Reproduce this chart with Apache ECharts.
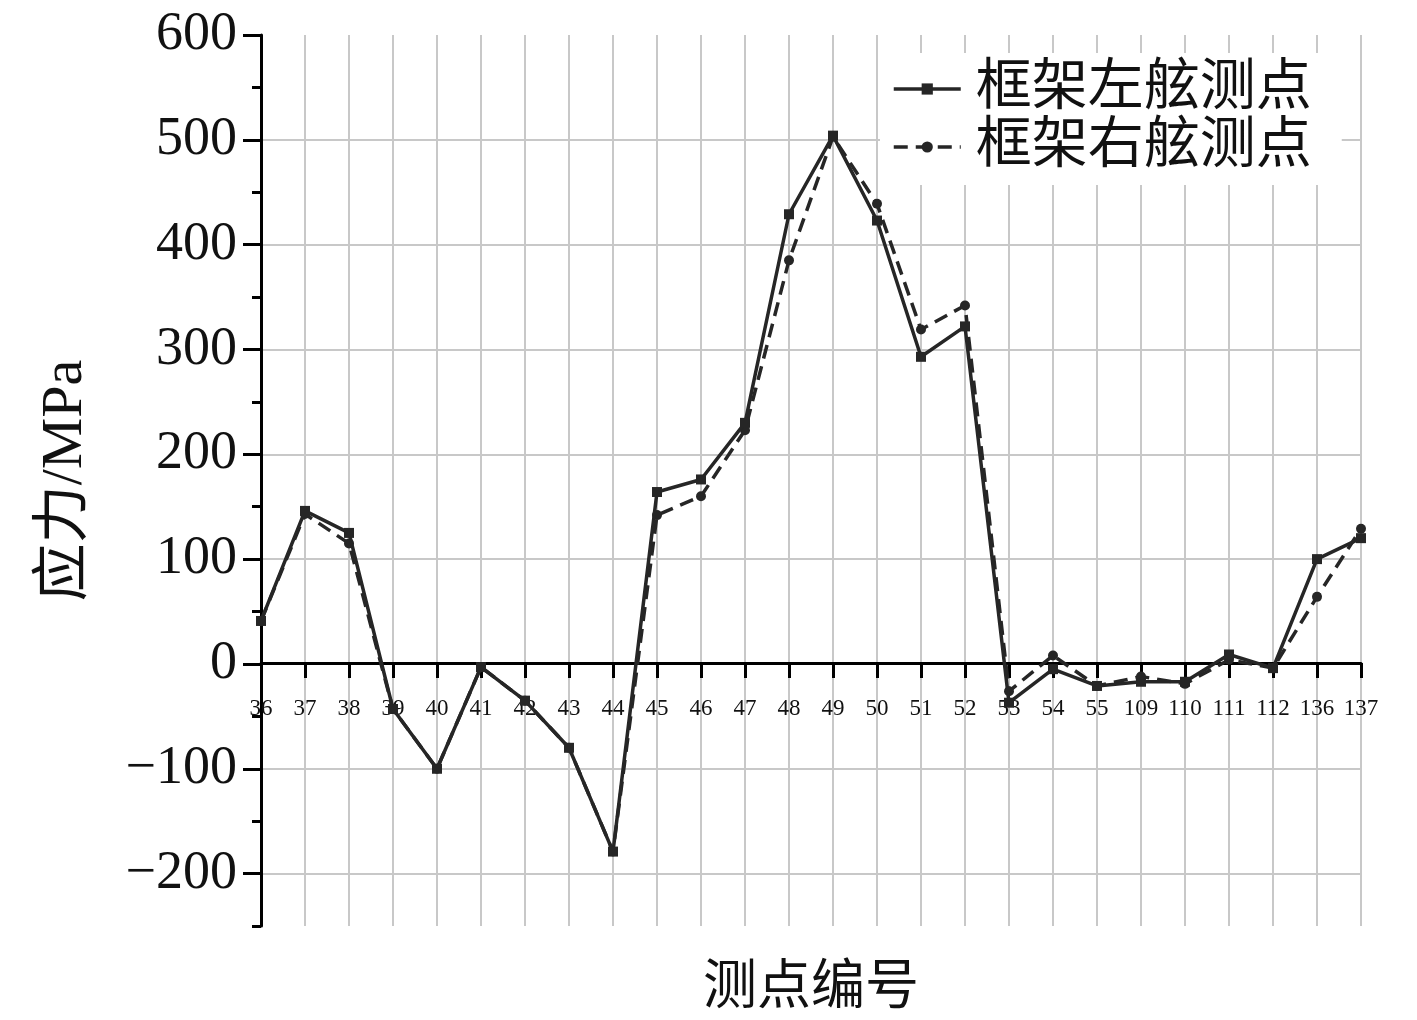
<!DOCTYPE html>
<html>
<head>
<meta charset="utf-8">
<script src="https://cdn.jsdelivr.net/npm/echarts@6/dist/echarts.min.js"></script>
<style>html,body{margin:0;padding:0;background:#fff}#c{width:1417px;height:1020px}</style>
</head>
<body>
<div id="c"></div>
<script>
const categories = ['36','37','38','39','40','41','42','43','44','45','46','47','48','49','50','51','52','53','54','55','109','110','111','112','136','137'];
const leftSide = [41,146,125,-43,-100,-3,-35,-80,-179,164,176,230,429,504,423,293,322,-37,-5,-21,-17,-17,9,-4,100,120];
const rightSide = [41,143,115,-43,-100,-3,-35,-80,-179,142,160,223,385,503,439,319,342,-26,8,-21,-12,-19,4,-4,64,129];
const majorTicks = [-200,-100,0,100,200,300,400,500,600];
const seriesNames = ['框架左舷测点','框架右舷测点'];
const xName = '测点编号';
const yName = '应力/MPa';

const FONT = "'Liberation Serif','Times New Roman','Noto Sans CJK SC',serif";
const INK = '#262626';
const chart = echarts.init(document.getElementById('c'), null, {renderer:'canvas'});
chart.setOption({
  backgroundColor:'#fff',
  animation:false,
  textStyle:{fontFamily:FONT,color:'#111'},
  grid:{left:261,right:56,top:35,bottom:94,containLabel:false,outerBoundsMode:'none'},
  legend:{
    data:seriesNames,
    orient:'vertical',
    left:880, top:53,
    padding:[8,30,10,12],
    backgroundColor:'#fff',
    itemWidth:67, itemHeight:14, itemGap:2,
    lineStyle:{width:3.5},
    textStyle:{fontFamily:FONT,fontSize:56,color:'#111',padding:[0,0,0,10]},
    z:10
  },
  xAxis:{
    type:'category',
    data:categories,
    boundaryGap:false,
    position:'bottom',
    offset:-263,
    name:xName,
    nameLocation:'middle',
    nameGap:300,
    nameTextStyle:{fontFamily:FONT,fontSize:54,color:'#111'},
    axisLine:{onZero:false,lineStyle:{color:'#000',width:3}},
    axisTick:{show:true,alignWithLabel:true,interval:0,length:15,lineStyle:{color:'#000',width:3}},
    axisLabel:{interval:0,margin:34,fontSize:23,color:'#111',fontFamily:FONT},
    splitLine:{show:true,interval:0,lineStyle:{color:'#c8c8c8',width:2}}
  },
  yAxis:[{
    type:'value',
    min:-250,max:600,interval:50,
    position:'left',
    name:yName,
    nameLocation:'middle',
    nameGap:166,
    nameRotate:90,
    nameTextStyle:{fontFamily:FONT,fontSize:58,color:'#111'},
    axisLine:{show:true,onZero:false,lineStyle:{color:'#000',width:3}},
    axisTick:{show:true,length:9,lineStyle:{color:'#000',width:3}},
    axisLabel:{
      margin:24,fontSize:54,color:'#111',fontFamily:FONT,
      formatter:function(v){ if(v%100!==0) return ''; return v<0 ? '\u2212'+Math.abs(v) : String(v); }
    },
    splitLine:{show:true,showMaxLine:false,lineStyle:{color:['rgba(0,0,0,0)','#c8c8c8'],width:2}}
  },{
    type:'value',
    min:-250,max:600,interval:50,
    position:'left',
    axisLine:{show:false},
    axisTick:{show:true,length:18,customValues:majorTicks,lineStyle:{color:'#000',width:3}},
    axisLabel:{show:false},
    splitLine:{show:false}
  }],
  series:[{
    name:seriesNames[0],
    type:'line',
    data:leftSide,
    z:4,
    symbol:'rect',symbolSize:10,
    itemStyle:{color:INK},
    lineStyle:{color:INK,width:3.5}
  },{
    name:seriesNames[1],
    type:'line',
    data:rightSide,
    z:3,
    symbol:'circle',symbolSize:10,
    itemStyle:{color:INK},
    lineStyle:{color:INK,width:3.5,type:[14,8]}
  }]
});
</script>
</body>
</html>
